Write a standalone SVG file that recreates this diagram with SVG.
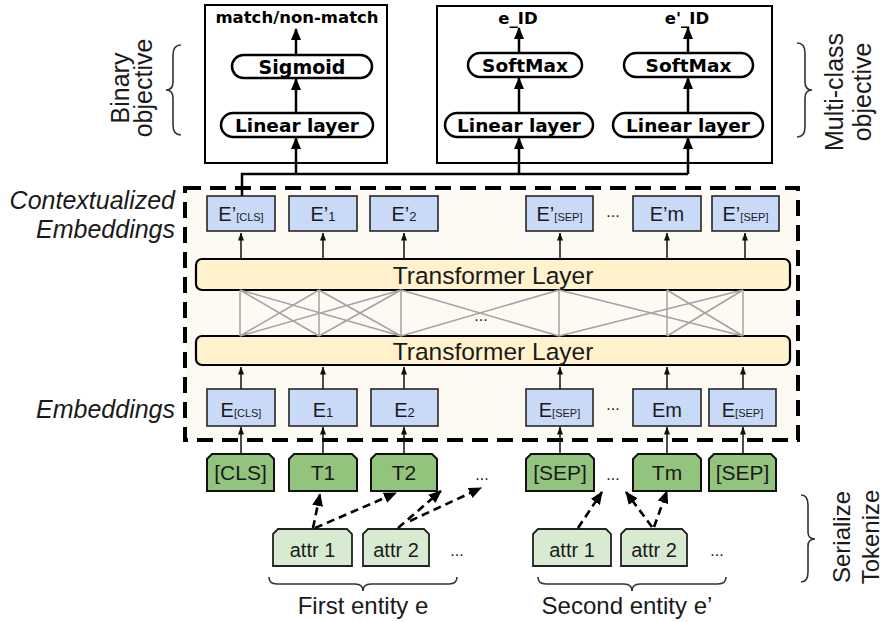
<svg xmlns="http://www.w3.org/2000/svg" width="883" height="622" viewBox="0 0 883 622">
<defs>
<style>
.t{font-family:"Liberation Sans",Arial,sans-serif;fill:#1a1a1a}
.b{font-family:"DejaVu Sans",Verdana,sans-serif;font-weight:bold;fill:#000}
.pill{fill:#fff;stroke:#000;stroke-width:2.5}
.frame{fill:#fff;stroke:#000;stroke-width:2}
.eb{fill:#c9daf8;stroke:#262626;stroke-width:1.6}
.tf{fill:#fff2cc;stroke:#000;stroke-width:2.2}
.tok{fill:#93c47d;stroke:#111;stroke-width:2}
.attr{fill:#d9ead3;stroke:#222;stroke-width:1.8}
.thick{fill:none;stroke:#000;stroke-width:2.5}
.thin{fill:none;stroke:#111;stroke-width:1.5}
.gray{fill:none;stroke:#a3a3a3;stroke-width:1.5}
.dash{fill:none;stroke:#000;stroke-width:2.6;stroke-dasharray:8 5}
.brace{fill:none;stroke:#333;stroke-width:1.6}
</style>
<marker id="big" markerUnits="userSpaceOnUse" viewBox="0 0 12 10" markerWidth="12" markerHeight="10" refX="11" refY="5" orient="auto"><path d="M0,0 L12,5 L0,10 Z" fill="#000"/></marker>
<marker id="sm" markerUnits="userSpaceOnUse" viewBox="0 0 8 6" markerWidth="8" markerHeight="6" refX="7.5" refY="3" orient="auto"><path d="M0,0 L8,3 L0,6 Z" fill="#111"/></marker>
<marker id="dh" markerUnits="userSpaceOnUse" viewBox="0 0 13 11" markerWidth="13" markerHeight="11" refX="12" refY="5.5" orient="auto"><path d="M0,0 L13,5.5 L0,11 Z" fill="#000"/></marker>
</defs>

<!-- main encoder region -->
<rect id="encoder" x="185" y="188" width="613" height="252" fill="#fdf9f3" stroke="#000" stroke-width="4" stroke-dasharray="16 9"/>

<!-- output heads -->
<g id="binary-head">
<rect class="frame" x="205" y="5" width="182" height="158"/>
<text class="b" x="297" y="23" font-size="16.5" text-anchor="middle">match/non-match</text>
<rect class="pill" x="232" y="55" width="140" height="23" rx="11.5"/>
<text class="b" x="302" y="73.5" font-size="19" text-anchor="middle">Sigmoid</text>
<rect class="pill" x="221" y="113" width="152" height="24" rx="12"/>
<text class="b" x="297" y="132" font-size="18.5" text-anchor="middle">Linear layer</text>
</g>
<g id="multiclass-head">
<rect class="frame" x="437" y="6" width="335" height="157"/>
<text class="b" x="518" y="24" font-size="16.5" text-anchor="middle">e_ID</text>
<text class="b" x="687" y="24" font-size="16.5" text-anchor="middle">e'_ID</text>
<rect class="pill" x="468" y="53" width="114" height="24" rx="12"/>
<text class="b" x="525" y="72" font-size="18.5" text-anchor="middle">SoftMax</text>
<rect class="pill" x="624" y="53" width="129" height="24" rx="12"/>
<text class="b" x="688.5" y="72" font-size="18.5" text-anchor="middle">SoftMax</text>
<rect class="pill" x="445" y="113" width="148" height="24" rx="12"/>
<text class="b" x="519" y="132" font-size="18.5" text-anchor="middle">Linear layer</text>
<rect class="pill" x="613" y="113" width="150" height="24" rx="12"/>
<text class="b" x="688" y="132" font-size="18.5" text-anchor="middle">Linear layer</text>
</g>

<!-- side labels -->
<g id="binary-label">
<path class="brace" d="M181,45 Q173,45 173,55 L173,82 Q173,90 166,90 Q173,90 173,98 L173,125 Q173,135 181,135"/>
<text class="t" font-size="25" text-anchor="middle" transform="translate(129,88) rotate(-90)">Binary</text>
<text class="t" font-size="25" text-anchor="middle" transform="translate(152,88) rotate(-90)">objective</text>
</g>
<g id="multiclass-label">
<path class="brace" d="M797,43 Q805,43 805,53 L805,82 Q805,90 812,90 Q805,90 805,98 L805,127 Q805,137 797,137"/>
<text class="t" font-size="25" text-anchor="middle" transform="translate(843,92) rotate(-90)">Multi-class</text>
<text class="t" font-size="25" text-anchor="middle" transform="translate(871,92) rotate(-90)">objective</text>
</g>
<g id="serialize-label">
<path class="brace" d="M801,495 Q808,495 808,505 L808,532 Q808,539 815,539 Q808,539 808,546 L808,572 Q808,582 801,582"/>
<text class="t" font-size="24" text-anchor="middle" transform="translate(850,537) rotate(-90)">Serialize</text>
<text class="t" font-size="24" text-anchor="middle" transform="translate(879,537) rotate(-90)">Tokenize</text>
</g>
<g id="row-labels">
<text class="t" x="175" y="209" font-size="25" font-style="italic" text-anchor="end">Contextualized</text>
<text class="t" x="175" y="238" font-size="25" font-style="italic" text-anchor="end">Embeddings</text>
<text class="t" x="175" y="418" font-size="25" font-style="italic" text-anchor="end">Embeddings</text>
</g>

<!-- contextualized embeddings -->
<g id="ctx-cls"><rect class="eb" x="207" y="196" width="68" height="35"/><text class="t" x="241" y="220.5" font-size="20" text-anchor="middle">E’<tspan font-size="11">[CLS]</tspan></text></g>
<g id="ctx-1"><rect class="eb" x="289" y="196" width="68" height="35"/><text class="t" x="323" y="220.5" font-size="20" text-anchor="middle">E’<tspan font-size="13">1</tspan></text></g>
<g id="ctx-2"><rect class="eb" x="370" y="196" width="68" height="35"/><text class="t" x="404" y="220.5" font-size="20" text-anchor="middle">E’<tspan font-size="13">2</tspan></text></g>
<g id="ctx-sep1"><rect class="eb" x="526" y="196" width="67" height="35"/><text class="t" x="559.5" y="220.5" font-size="20" text-anchor="middle">E’<tspan font-size="11">[SEP]</tspan></text></g>
<text class="t" x="613" y="217" font-size="16" text-anchor="middle">...</text>
<g id="ctx-m"><rect class="eb" x="633" y="196" width="68" height="35"/><text class="t" x="667" y="220.5" font-size="20" text-anchor="middle">E’m</text></g>
<g id="ctx-sep2"><rect class="eb" x="712" y="196" width="67" height="35"/><text class="t" x="745.5" y="220.5" font-size="20" text-anchor="middle">E’<tspan font-size="11">[SEP]</tspan></text></g>

<!-- transformer layers -->
<g id="transformer-top"><rect class="tf" x="196" y="259" width="594" height="31" rx="6"/><text class="t" x="493" y="283.5" font-size="24.5" text-anchor="middle">Transformer Layer</text></g>
<g id="transformer-bottom"><rect class="tf" x="196" y="336" width="594" height="29" rx="6"/><text class="t" x="493" y="359.5" font-size="24.5" text-anchor="middle">Transformer Layer</text></g>

<!-- input embeddings -->
<g id="emb-cls"><rect class="eb" x="207" y="389" width="68" height="37"/><text class="t" x="241" y="416.5" font-size="20" text-anchor="middle">E<tspan font-size="11">[CLS]</tspan></text></g>
<g id="emb-1"><rect class="eb" x="289" y="389" width="68" height="37"/><text class="t" x="323" y="416.5" font-size="20" text-anchor="middle">E<tspan font-size="13">1</tspan></text></g>
<g id="emb-2"><rect class="eb" x="371" y="389" width="67" height="37"/><text class="t" x="404.5" y="416.5" font-size="20" text-anchor="middle">E<tspan font-size="13">2</tspan></text></g>
<g id="emb-sep1"><rect class="eb" x="526" y="389" width="67" height="37"/><text class="t" x="559.5" y="416.5" font-size="20" text-anchor="middle">E<tspan font-size="11">[SEP]</tspan></text></g>
<text class="t" x="613" y="410" font-size="16" text-anchor="middle">...</text>
<g id="emb-m"><rect class="eb" x="633" y="389" width="68" height="37"/><text class="t" x="667" y="416.5" font-size="20" text-anchor="middle">Em</text></g>
<g id="emb-sep2"><rect class="eb" x="709" y="389" width="67" height="37"/><text class="t" x="742.5" y="416.5" font-size="20" text-anchor="middle">E<tspan font-size="11">[SEP]</tspan></text></g>

<!-- tokens -->
<g id="tok-cls"><path class="tok" d="M207,459 L212,454 L269,454 L274,459 L274,491 L207,491 Z"/><text class="t" x="240.5" y="480" font-size="21" text-anchor="middle">[CLS]</text></g>
<g id="tok-1"><path class="tok" d="M289,459 L294,454 L352,454 L357,459 L357,491 L289,491 Z"/><text class="t" x="323" y="480" font-size="21" text-anchor="middle">T1</text></g>
<g id="tok-2"><path class="tok" d="M371,459 L376,454 L432,454 L437,459 L437,491 L371,491 Z"/><text class="t" x="404" y="480" font-size="21" text-anchor="middle">T2</text></g>
<text class="t" x="482" y="480" font-size="16" text-anchor="middle">...</text>
<g id="tok-sep1"><path class="tok" d="M526,459 L531,454 L589,454 L594,459 L594,491 L526,491 Z"/><text class="t" x="560" y="480" font-size="21" text-anchor="middle">[SEP]</text></g>
<text class="t" x="613" y="480" font-size="16" text-anchor="middle">...</text>
<g id="tok-m"><path class="tok" d="M633,459 L638,454 L696,454 L701,459 L701,491 L633,491 Z"/><text class="t" x="667" y="480" font-size="21" text-anchor="middle">Tm</text></g>
<g id="tok-sep2"><path class="tok" d="M709,459 L714,454 L771,454 L776,459 L776,491 L709,491 Z"/><text class="t" x="742.5" y="480" font-size="21" text-anchor="middle">[SEP]</text></g>

<!-- attributes -->
<g id="attr-e1"><path class="attr" d="M273,534 L278,529 L347,529 L352,534 L352,566 L273,566 Z"/><text class="t" x="312.5" y="557" font-size="20" text-anchor="middle">attr 1</text></g>
<g id="attr-e2"><path class="attr" d="M363,534 L368,529 L424,529 L429,534 L429,566 L363,566 Z"/><text class="t" x="396" y="557" font-size="20" text-anchor="middle">attr 2</text></g>
<text class="t" x="457" y="556" font-size="16" text-anchor="middle">...</text>
<g id="attr-f1"><path class="attr" d="M533,534 L538,529 L606,529 L611,534 L611,566 L533,566 Z"/><text class="t" x="572" y="557" font-size="20" text-anchor="middle">attr 1</text></g>
<g id="attr-f2"><path class="attr" d="M621,534 L626,529 L682,529 L687,534 L687,566 L621,566 Z"/><text class="t" x="654" y="557" font-size="20" text-anchor="middle">attr 2</text></g>
<text class="t" x="717" y="556" font-size="16" text-anchor="middle">...</text>

<g id="entity-labels">
<path class="brace" d="M269,577 Q269,584 277,584 L355,584 Q363,584 363,591 Q363,584 371,584 L449,584 Q457,584 457,577"/>
<path class="brace" d="M538,577 Q538,584 546,584 L624,584 Q632,584 632,591 Q632,584 640,584 L718,584 Q726,584 726,577"/>
<text class="t" x="363" y="614" font-size="24" text-anchor="middle">First entity e</text>
<text class="t" x="627" y="614" font-size="24" text-anchor="middle">Second entity e’</text>
</g>

<!-- connectors -->
<g id="connectors">
<path class="thick" d="M242,196 V174 H688"/>
<path class="thick" marker-end="url(#big)" d="M296,174 V138"/>
<path class="thick" marker-end="url(#big)" d="M296,113 V79"/>
<path class="thick" marker-end="url(#big)" d="M296,55 V29"/>
<path class="thick" marker-end="url(#big)" d="M519,174 V138"/>
<path class="thick" marker-end="url(#big)" d="M519,113 V78"/>
<path class="thick" marker-end="url(#big)" d="M519,53 V28"/>
<path class="thick" marker-end="url(#big)" d="M688,174 V138"/>
<path class="thick" marker-end="url(#big)" d="M688,113 V78"/>
<path class="thick" marker-end="url(#big)" d="M688,53 V28"/>

<path class="thin" marker-end="url(#sm)" d="M241,259 V233"/>
<path class="thin" marker-end="url(#sm)" d="M323,259 V233"/>
<path class="thin" marker-end="url(#sm)" d="M404,259 V233"/>
<path class="thin" marker-end="url(#sm)" d="M560,259 V233"/>
<path class="thin" marker-end="url(#sm)" d="M667,259 V233"/>
<path class="thin" marker-end="url(#sm)" d="M745,259 V233"/>

<path class="gray" d="M240,290 V336 M319,290 V336 M401,290 V336 M559,290 V336 M667,290 V336 M743,290 V336
M240,290 L319,336 M319,290 L240,336 M240,290 L401,336 M401,290 L240,336 M319,290 L401,336 M401,290 L319,336
M401,290 L559,336 M559,290 L401,336 M559,290 L743,336 M743,290 L559,336 M667,290 L743,336 M743,290 L667,336"/>
<text class="t" x="481" y="321" font-size="16" text-anchor="middle">...</text>

<path class="thin" marker-end="url(#sm)" d="M241,389 V367"/>
<path class="thin" marker-end="url(#sm)" d="M323,389 V367"/>
<path class="thin" marker-end="url(#sm)" d="M404,389 V367"/>
<path class="thin" marker-end="url(#sm)" d="M560,389 V367"/>
<path class="thin" marker-end="url(#sm)" d="M667,389 V367"/>
<path class="thin" marker-end="url(#sm)" d="M743,389 V367"/>

<path class="thin" marker-end="url(#sm)" d="M241,454 V427"/>
<path class="thin" marker-end="url(#sm)" d="M323,454 V427"/>
<path class="thin" marker-end="url(#sm)" d="M404,454 V427"/>
<path class="thin" marker-end="url(#sm)" d="M560,454 V427"/>
<path class="thin" marker-end="url(#sm)" d="M667,454 V427"/>
<path class="thin" marker-end="url(#sm)" d="M743,454 V427"/>

<path class="dash" marker-end="url(#dh)" d="M313,528 L320,494"/>
<path class="dash" marker-end="url(#dh)" d="M315,528 L396,493"/>
<path class="dash" marker-end="url(#dh)" d="M398,528 L441,491"/>
<path class="dash" marker-end="url(#dh)" d="M410,521 L481,488"/>
<path class="dash" marker-end="url(#dh)" d="M578,528 L602,492"/>
<path class="dash" marker-end="url(#dh)" d="M652,527 L626,492"/>
<path class="dash" marker-end="url(#dh)" d="M654,527 L667,491"/>
</g>
</svg>
